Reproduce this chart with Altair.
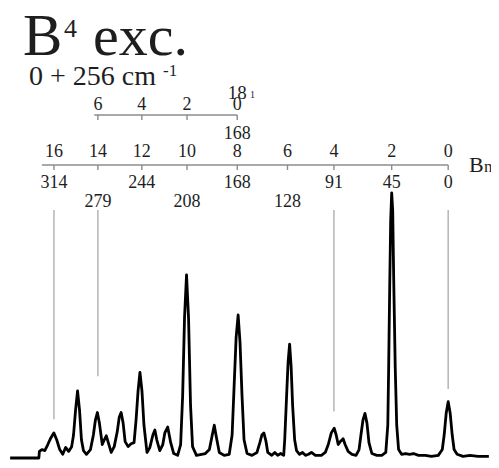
import altair as alt
import pandas as pd

# ---- spectrum trace (shift in cm-1 relative to 0+256 cm-1, intensity arb. units) ----
shift = [348.9, 326.0, 325.6, 323.6, 321.3, 318.9, 316.5, 314.1, 311.8, 309.4, 307.0, 304.7, 302.3,
         299.9, 298.4, 296.8, 295.2, 293.6, 292.1, 290.5, 288.1, 284.9, 282.6, 281.0, 279.4, 277.8,
         275.5, 273.9, 272.3, 270.7, 268.4, 266.0, 263.6, 262.0, 260.5, 258.9, 257.3, 254.9, 252.6,
         250.2, 248.6, 247.0, 245.5, 243.9, 242.3, 239.9, 237.6, 235.2, 233.6, 232.1, 229.7, 227.3,
         225.7, 223.4, 221.0, 218.6, 215.5, 213.1, 211.5, 210.0, 208.4, 206.8, 205.2, 203.6, 200.5,
         196.5, 193.4, 190.2, 187.9, 186.3, 184.7, 182.3, 178.4, 174.4, 172.1, 170.5, 168.9, 167.3,
         165.8, 164.2, 162.6, 160.2, 156.3, 152.3, 150.0, 148.4, 146.8, 145.2, 143.7, 140.5, 138.1,
         135.8, 133.4, 131.0, 130.2, 128.7, 127.5, 126.3, 125.1, 123.9, 122.3, 120.8, 118.4, 116.0,
         113.7, 111.3, 108.9, 105.8, 101.0, 97.9, 95.5, 93.1, 90.8, 89.2, 87.6, 86.0, 83.7, 82.1,
         79.7, 76.6, 73.4, 71.0, 69.5, 67.9, 66.3, 64.7, 63.1, 60.8, 56.8, 52.9, 49.7, 48.1, 47.4,
         46.6, 45.8, 45.0, 44.2, 43.4, 42.2, 41.0, 39.5, 37.1, 33.9, 30.8, 27.6, 23.7, 18.2, 13.4,
         7.9, 4.7, 3.2, 1.6, 0.0, -1.6, -3.2, -4.7, -7.1, -11.8, -17.4, -23.7, -32.4]
intensity = [-2.2, -2.2, 1.5, 2.2, 1.8, 4.1, 6.6, 8.5, 5.9, 2.2, 0.4, 3.0, 1.5,
             3.3, 7.7, 17.0, 24.4, 17.0, 5.9, 1.8, 0.4, 2.2, 7.7, 13.3, 16.2, 12.2,
             4.1, 5.9, 7.4, 4.8, 1.1, 3.3, 8.9, 14.4, 16.2, 12.2, 5.2, 3.3, 4.4,
             4.8, 13.3, 24.4, 31.4, 24.4, 11.4, 1.1, 3.0, 7.7, 9.6, 5.9, 1.8, 4.1,
             8.5, 10.7, 4.8, 0.7, 0.0, 4.1, 22.5, 52.0, 68.3, 52.0, 18.8, 3.3, 0.0,
             0.4, 0.7, 2.2, 7.7, 11.4, 7.0, 1.1, 0.0, 0.4, 7.7, 26.2, 44.6, 53.1,
             42.8, 22.5, 5.9, 0.7, 0.0, 1.1, 4.8, 7.7, 8.5, 5.5, 1.1, 0.0, 1.1,
             0.0, 0.7, 0.0, 5.9, 22.5, 35.4, 42.1, 33.6, 18.8, 5.9, 1.8, 0.4, 1.1,
             0.0, 0.4, 1.1, 0.0, 0.0, 1.1, 4.1, 8.5, 10.3, 7.7, 4.1, 5.2, 6.3, 4.1,
             1.5, 0.4, 0.0, 2.2, 7.7, 13.3, 15.9, 12.2, 4.8, 0.7, 0.0, 0.0, 1.1, 11.4, 33.6,
             63.1, 88.9, 99.3, 92.6, 66.8, 33.6, 11.4, 2.2, 0.4, 0.7, 0.4, 0.7, 0.0, 0.0, -0.4,
             0.0, 2.2, 7.7, 15.9, 20.3, 15.9, 7.7, 2.2, 0.4, -0.4, 0.0, -0.4, -0.4]

# ---- B_n ladder ----
bn_quanta = ["16", "14", "12", "10", "8", "6", "4", "2", "0"]
bn_shift = [314, 279, 244, 208, 168, 128, 91, 45, 0]
bn_row = [1, 2, 1, 2, 1, 2, 1, 1, 1]          # which label row the cm-1 value sits in
bn_axis_start = 323.6

# ---- 18_1 B_n ladder ----
b18_quanta = ["6", "4", "2", "0"]
b18_shift = [279, 244, 208, 168]
b18_axis_start = 281.9

# ---- guide lines down to assigned peaks ----
guide_shift = [314, 279, 91, 0]
guide_bottom = [13.7, 29.9, 16.6, 25.1]

FONT = "Liberation Serif"
W, H = 483, 452
xs = alt.Scale(domain=[349, -32.5])
ys = alt.Scale(domain=[-1.0, 168.5], clamp=True)
AX = "#8c8c8c"
TXT = "#1e1e1e"

spec_df = pd.DataFrame({"shift": shift, "intensity": intensity, "idx": range(len(shift))})
spec = alt.Chart(spec_df).mark_line(color="black", strokeWidth=2.8, strokeJoin="round").encode(
    x=alt.X("shift:Q", scale=xs, axis=None),
    y=alt.Y("intensity:Q", scale=ys, axis=None),
    order="idx:Q",
)

guide_df = pd.DataFrame({"shift": guide_shift, "intensity": guide_bottom})
guides = alt.Chart(guide_df).mark_rule(color="#b4b4b4", strokeWidth=1.5).encode(
    x=alt.X("shift:Q", scale=xs, axis=None),
    y=alt.Y("intensity:Q", scale=ys, axis=None),
    y2=alt.value(200),
)

bn_df = pd.DataFrame({"shift": bn_shift, "quanta": bn_quanta, "row": bn_row,
                      "label": [str(s) for s in bn_shift]})
bn_line = alt.Chart(pd.DataFrame({"shift": [bn_axis_start], "shift2": [0]})).mark_rule(
    color=AX, strokeWidth=1.6).encode(
    x=alt.X("shift:Q", scale=xs, axis=None), x2="shift2:Q", y=alt.value(155))
bn_ticks = alt.Chart(bn_df).mark_rule(color=AX, strokeWidth=1.4).encode(
    x=alt.X("shift:Q", scale=xs, axis=None), y=alt.value(155), y2=alt.value(160))
bn_q = alt.Chart(bn_df).mark_text(font=FONT, fontSize=18, color=TXT, baseline="alphabetic").encode(
    x=alt.X("shift:Q", scale=xs, axis=None), y=alt.value(147), text="quanta:N")
bn_l1 = alt.Chart(bn_df).transform_filter("datum.row == 1").mark_text(
    font=FONT, fontSize=18, color=TXT, baseline="alphabetic").encode(
    x=alt.X("shift:Q", scale=xs, axis=None), y=alt.value(178), text="label:N")
bn_l2 = alt.Chart(bn_df).transform_filter("datum.row == 2").mark_text(
    font=FONT, fontSize=18, color=TXT, baseline="alphabetic").encode(
    x=alt.X("shift:Q", scale=xs, axis=None), y=alt.value(197), text="label:N")

b18_df = pd.DataFrame({"shift": b18_shift, "quanta": b18_quanta})
b18_line = alt.Chart(pd.DataFrame({"shift": [b18_axis_start], "shift2": [168]})).mark_rule(
    color=AX, strokeWidth=1.6).encode(
    x=alt.X("shift:Q", scale=xs, axis=None), x2="shift2:Q", y=alt.value(105))
b18_ticks = alt.Chart(b18_df).mark_rule(color=AX, strokeWidth=1.4).encode(
    x=alt.X("shift:Q", scale=xs, axis=None), y=alt.value(105), y2=alt.value(110))
b18_q = alt.Chart(b18_df).mark_text(font=FONT, fontSize=18, color=TXT, baseline="alphabetic").encode(
    x=alt.X("shift:Q", scale=xs, axis=None), y=alt.value(100), text="quanta:N")
b18_origin = alt.Chart(pd.DataFrame({"shift": [168], "label": ["168"], "name": ["18"]}))
b18_168 = b18_origin.mark_text(font=FONT, fontSize=18, color=TXT, baseline="alphabetic").encode(
    x=alt.X("shift:Q", scale=xs, axis=None), y=alt.value(129), text="label:N")
b18_name = b18_origin.mark_text(font=FONT, fontSize=19, color=TXT, baseline="alphabetic").encode(
    x=alt.X("shift:Q", scale=xs, axis=None), y=alt.value(89), text="name:N")


def txt(s, x, y, size, align="left"):
    return alt.Chart(pd.DataFrame({"t": [s]})).mark_text(
        font=FONT, fontSize=size, color=TXT, align=align, baseline="alphabetic").encode(
        x=alt.value(x), y=alt.value(y), text="t:N")


texts = [
    txt("1", 240, 88, 10, "left"),
    txt("B", 459, 162, 22),
    txt("n", 474, 162, 17),
    txt("B", 13, 45, 59),
    txt("4", 54, 27, 26),
    txt("exc.", 83, 45, 58),
    txt("0 + 256 cm", 19, 75, 28),
    txt("-1", 153, 66, 17),
]

chart = alt.layer(
    guides, bn_line, bn_ticks, b18_line, b18_ticks, spec,
    bn_q, bn_l1, bn_l2, b18_q, b18_168, b18_name, *texts
).properties(width=W, height=H, padding=0, autosize=alt.AutoSizeParams(type="fit", contains="padding")
).configure_view(stroke=None)

chart.save("out.html", embed_options={"renderer": "svg", "actions": False})
